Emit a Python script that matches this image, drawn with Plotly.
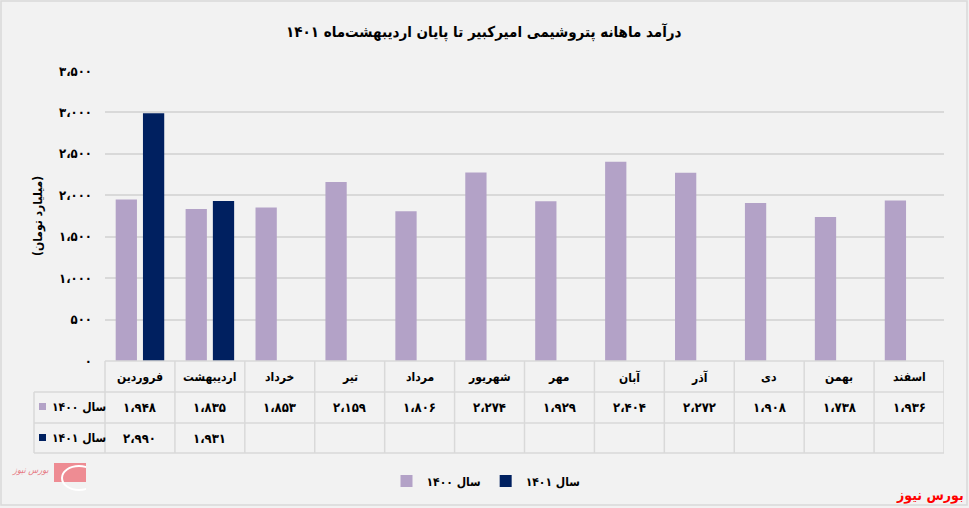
import plotly.graph_objects as go

months = ["فروردین", "اردیبهشت", "خرداد", "تیر", "مرداد", "شهریور",
          "مهر", "آبان", "آذر", "دی", "بهمن", "اسفند"]
y1400 = [1948, 1835, 1853, 2159, 1806, 2274, 1929, 2404, 2272, 1908, 1738, 1936]
y1401 = [2990, 1931, None, None, None, None, None, None, None, None, None, None]
series_names = ["سال ۱۴۰۰", "سال ۱۴۰۱"]
y_ticks = [0, 500, 1000, 1500, 2000, 2500, 3000, 3500]
title_text = "درآمد ماهانه پتروشیمی امیرکبیر تا پایان اردیبهشت‌ماه ۱۴۰۱"
y_title = "(میلیارد تومان)"
brand = "بورس نیوز"

C1400 = "#B3A2C7"
C1401 = "#002060"
GRID = "#D9D9D9"
FONT = "DejaVu Sans Condensed, DejaVu Sans"

FA = str.maketrans("0123456789", "۰۱۲۳۴۵۶۷۸۹")


def fa(n):
    s = f"{n:,}".replace(",", "،")
    return s.translate(FA)


W, H = 969, 508
PL, PR, PT, PB = 105, 944, 71, 361


def px(x):
    return (x - PL) / (PR - PL)


def py(y):
    return (PB - y) / (PB - PT)


fig = go.Figure()
fig.add_trace(go.Bar(x=list(range(12)), y=y1400, name=series_names[0],
                     marker=dict(color=C1400, line=dict(width=0))))
fig.add_trace(go.Bar(x=list(range(12)), y=y1401, name=series_names[1],
                     marker=dict(color=C1401, line=dict(width=0))))

shapes = []
ann = []
LC = dict(color=GRID, width=1.5)
for yy in [392, 423, 453]:
    shapes.append(dict(type="line", xref="paper", yref="paper",
                       x0=px(34), x1=px(PR), y0=py(yy), y1=py(yy), line=LC))
shapes.append(dict(type="line", xref="paper", yref="paper",
                   x0=px(PL), x1=px(PR), y0=py(PB), y1=py(PB), line=LC))
shapes.append(dict(type="line", xref="paper", yref="paper",
                   x0=px(PL), x1=px(PL), y0=py(PB), y1=py(453), line=LC))
shapes.append(dict(type="line", xref="paper", yref="paper",
                   x0=px(34), x1=px(34), y0=py(392), y1=py(453), line=LC))
for i in range(12):
    shapes.append(dict(type="line", xref="x", yref="paper",
                       x0=i + 0.5, x1=i + 0.5, y0=py(PB), y1=py(453), line=LC))
shapes.append(dict(type="rect", xref="paper", yref="paper",
                   x0=px(1), x1=px(967), y0=py(1), y1=py(505),
                   line=dict(color=GRID, width=1.5), layer="below"))
shapes.append(dict(type="rect", xref="paper", yref="paper",
                   x0=px(54), x1=px(86), y0=py(463), y1=py(482),
                   fillcolor="#EE8C93", line=dict(width=0)))
shapes.append(dict(type="circle", xref="paper", yref="paper",
                   x0=px(62), x1=px(96), y0=py(466), y1=py(490),
                   fillcolor="rgba(0,0,0,0)", line=dict(color="#FFFFFF", width=2)))
shapes.append(dict(type="rect", xref="paper", yref="paper",
                   x0=px(86), x1=px(100), y0=py(460), y1=py(492),
                   fillcolor="#F2F2F2", line=dict(width=0)))


def add_text(x, y, text, size, color="#000", xref="paper", xanchor="center", angle=0):
    ann.append(dict(x=x, y=y, xref=xref, yref="paper", text=text, showarrow=False,
                    xanchor=xanchor, yanchor="middle", textangle=angle,
                    font=dict(size=size, color=color, family=FONT)))


for i, m in enumerate(months):
    add_text(i, py(377), f"<b>{m}</b>", 12, xref="x")
    add_text(i, py(407), f"<b>{fa(y1400[i])}</b>", 13, xref="x")
    if y1401[i] is not None:
        add_text(i, py(438), f"<b>{fa(y1401[i])}</b>", 13, xref="x")

for yy, nm, col in [(407, series_names[0], C1400), (438, series_names[1], C1401)]:
    shapes.append(dict(type="rect", xref="paper", yref="paper",
                       x0=px(39), x1=px(46), y0=py(yy - 4), y1=py(yy + 3),
                       fillcolor=col, line=dict(width=0)))
    add_text(px(50), py(yy), f"<b>{nm}</b>", 12, xanchor="left")

add_text(px(484), py(32), f"<b>{title_text}</b>", 15)
add_text(px(38), py(216), f"<b>{y_title}</b>", 12, angle=-90)
add_text(px(966), py(495), f"<b>{brand}</b>", 14, color="#FF0000", xanchor="right")
add_text(px(51), py(470), f"<i>{brand}</i>", 9, color="#E67A84", xanchor="right")

fig.update_layout(
    width=W, height=H,
    margin=dict(l=PL, r=W - PR, t=PT, b=H - PB, pad=0),
    paper_bgcolor="#F2F2F2", plot_bgcolor="#F2F2F2",
    barmode="group", bargap=0.22, bargroupgap=0.22,
    showlegend=True,
    legend=dict(orientation="h", x=px(486), y=py(481), xanchor="center", yanchor="middle",
                font=dict(size=12, color="#000", family=FONT, weight="bold"),
                traceorder="normal", bgcolor="rgba(0,0,0,0)", itemclick=False,
                itemwidth=30),
    shapes=shapes, annotations=ann,
    xaxis=dict(range=[-0.5, 11.5], showticklabels=False, showgrid=False, zeroline=False,
               fixedrange=True),
    yaxis=dict(range=[0, 3500], tickvals=y_ticks, ticktext=[f"<b>{fa(v)}</b>" for v in y_ticks],
               showgrid=True, gridcolor=GRID, gridwidth=1.5, zeroline=False,
               ticklabelstandoff=12, tickfont=dict(size=13, color="#000", family=FONT),
               fixedrange=True),
    font=dict(family=FONT),
)

fig.write_html("out.html", config={"displayModeBar": False},
               post_script="document.body.style.margin='0px';")
